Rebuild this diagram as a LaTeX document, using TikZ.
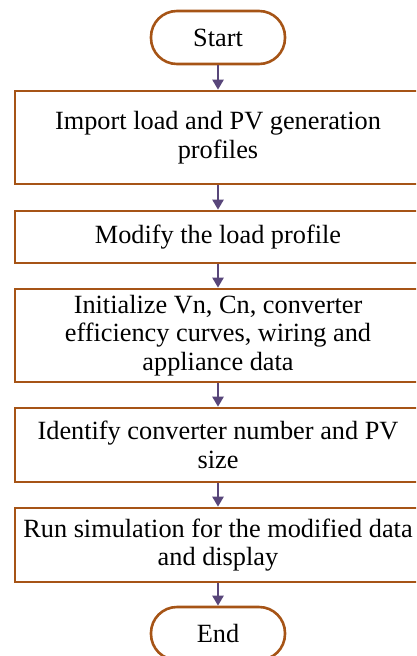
\documentclass[tikz,border=0pt]{standalone}
\usepackage{fontspec}
\setmainfont{Liberation Serif}
\usetikzlibrary{arrows.meta}
\definecolor{brd}{RGB}{166,84,22}
\definecolor{arr}{RGB}{88,70,122}
\begin{document}
\begin{tikzpicture}[x=1pt,y=-1pt,
  every node/.style={font=\fontsize{26.3}{28.5}\selectfont, align=center, inner sep=2pt},
  procbox/.style={draw=brd, line width=2.6pt, minimum width=406pt, rectangle},
  termbox/.style={draw=brd, line width=2.6pt, minimum width=134pt, minimum height=53pt, rounded corners=26pt, rectangle},
  flow/.style={draw=arr, line width=2.2pt, -{Triangle[width=11pt,length=10pt]}}]
\useasboundingbox (0,0) rectangle (416,656);
\clip (0,0) rectangle (416,656);
\node[termbox] (start) at (218,37.5) {Start};
\node[procbox, minimum height=93pt] (b1) at (218,137.5) {Import load and PV generation\\profiles};
\node[procbox, minimum height=52pt] (b2) at (218,237) {Modify the load profile};
\node[procbox, minimum height=93pt] (b3) at (218,335.5) {Initialize Vn, Cn, converter\\efficiency curves, wiring and\\appliance data};
\node[procbox, minimum height=74pt] (b4) at (218,445) {Identify converter number and PV\\size};
\node[procbox, minimum height=74pt] (b5) at (218,545) {Run simulation for the modified data\\and display};
\node[termbox] (end) at (218,633.5) {End};
\draw[flow] (start) -- (b1);
\draw[flow] (b1) -- (b2);
\draw[flow] (b2) -- (b3);
\draw[flow] (b3) -- (b4);
\draw[flow] (b4) -- (b5);
\draw[flow] (b5) -- (end);
\end{tikzpicture}
\end{document}
